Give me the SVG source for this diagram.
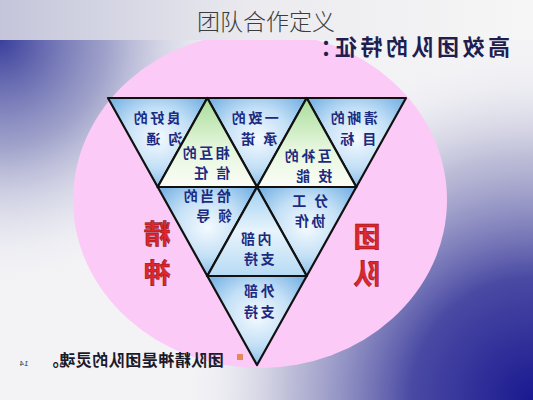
<svg xmlns="http://www.w3.org/2000/svg" width="533" height="400" viewBox="0 0 533 400">
<defs>
<radialGradient id="tl" gradientUnits="userSpaceOnUse" cx="0" cy="40" r="240">
<stop offset="0" stop-color="#3a3f9c"/>
<stop offset="0.45" stop-color="#8c8fc0" stop-opacity="0.8"/>
<stop offset="1" stop-color="#e8e8f0" stop-opacity="0"/>
</radialGradient>
<radialGradient id="br" gradientUnits="userSpaceOnUse" cx="533" cy="400" r="350">
<stop offset="0" stop-color="#1a1890"/>
<stop offset="0.35" stop-color="#4a4aa4"/>
<stop offset="0.7" stop-color="#a8a8cc" stop-opacity="0.7"/>
<stop offset="1" stop-color="#f0f0f4" stop-opacity="0"/>
</radialGradient>
<linearGradient id="band" x1="0" y1="0" x2="1" y2="0">
<stop offset="0" stop-color="#c4c5da"/>
<stop offset="0.5" stop-color="#ececf0"/>
<stop offset="1" stop-color="#f6f6f6"/>
</linearGradient>
<radialGradient id="blue" cx="0.5" cy="0.45" r="0.6">
<stop offset="0" stop-color="#f4faff"/>
<stop offset="0.55" stop-color="#c4e0f6"/>
<stop offset="1" stop-color="#7db6e6"/>
</radialGradient>
<linearGradient id="green" x1="0" y1="0" x2="0" y2="1">
<stop offset="0" stop-color="#a8dc98"/>
<stop offset="0.55" stop-color="#e4f6dc"/>
<stop offset="1" stop-color="#fbfdf6"/>
</linearGradient>
<linearGradient id="inner" x1="0" y1="0" x2="0" y2="1">
<stop offset="0" stop-color="#9fd0f2"/>
<stop offset="0.5" stop-color="#e8f4fc"/>
<stop offset="1" stop-color="#b6daf4"/>
</linearGradient>
<style>
.tri{stroke:#111;stroke-width:2.2;stroke-linejoin:round}
.b{fill:url(#blue)}
.g{fill:url(#green)}
.i{fill:url(#inner)}
.t{font-family:"Noto Sans CJK SC","Noto Sans CJK JP",sans-serif;font-size:14px;font-weight:700;fill:#1c2a80;text-anchor:middle;letter-spacing:2.5px}
.r{font-family:"Noto Sans CJK SC","Noto Sans CJK JP",sans-serif;font-size:27px;font-weight:700;fill:#e0262c;stroke:#7a1010;stroke-width:0.5;text-anchor:middle}
</style>
</defs>
<rect width="533" height="400" fill="#f3f3f6"/>
<rect width="533" height="400" fill="url(#tl)"/>
<rect width="533" height="400" fill="url(#br)"/>
<ellipse cx="260" cy="200" rx="187" ry="168" fill="#fccaf6"/>
<rect width="533" height="40" fill="url(#band)"/>
<text x="266" y="30" font-family="'Noto Sans CJK SC',sans-serif" font-size="23" font-weight="300" fill="#3c3c3c" text-anchor="middle">团队合作定义</text>
<text transform="scale(-1,1)" x="-408" y="55" font-family="'Noto Sans CJK SC',sans-serif" font-size="22" font-weight="700" fill="#1e1e50" text-anchor="middle" letter-spacing="3.5">高效团队的特征：</text>

<g id="n1"><polygon class="tri b" points="108,98 207.3,98 157.7,187"/>
<text class="t" transform="scale(-1,1)" x="-156" y="123">良好的</text>
<text class="t" transform="scale(-1,1)" x="-163" y="144">沟 通</text></g>
<g id="n2"><polygon class="tri b" points="207.3,98 306.7,98 257,187"/>
<text class="t" transform="scale(-1,1)" x="-254" y="123">一致的</text>
<text class="t" transform="scale(-1,1)" x="-258" y="144">承 诺</text></g>
<g id="n3"><polygon class="tri b" points="306.7,98 406,98 356.3,187"/>
<text class="t" transform="scale(-1,1)" x="-353" y="123">清晰的</text>
<text class="t" transform="scale(-1,1)" x="-357" y="144">目 标</text></g>
<g id="n4"><polygon class="tri g" points="207.3,98 157.7,187 257,187"/>
<text class="t" transform="scale(-1,1)" x="-205" y="158">相互的</text>
<text class="t" transform="scale(-1,1)" x="-211" y="178">信 任</text></g>
<g id="n5"><polygon class="tri g" points="306.7,98 257,187 356.3,187"/>
<text class="t" transform="scale(-1,1)" x="-307" y="161">互补的</text>
<text class="t" transform="scale(-1,1)" x="-313" y="181">技 能</text></g>
<g id="n6"><polygon class="tri b" points="157.7,187 257,187 207.3,276"/>
<text class="t" transform="scale(-1,1)" x="-206" y="201">恰当的</text>
<text class="t" transform="scale(-1,1)" x="-213" y="221">领 导</text></g>
<g id="n7"><polygon class="tri b" points="257,187 356.3,187 306.7,276"/>
<text class="t" transform="scale(-1,1)" x="-309" y="206">分 工</text>
<text class="t" transform="scale(-1,1)" x="-309" y="226">协作</text></g>
<g id="n8"><polygon class="tri i" points="257,187 207.3,276 306.7,276"/>
<text class="t" transform="scale(-1,1)" x="-255" y="244">内部</text>
<text class="t" transform="scale(-1,1)" x="-258" y="264">支持</text></g>
<g id="n9"><polygon class="tri b" points="207.3,276 306.7,276 257,365"/>
<text class="t" transform="scale(-1,1)" x="-258" y="296">外部</text>
<text class="t" transform="scale(-1,1)" x="-258" y="317">支持</text></g>

<g id="spirit">
<text class="r" transform="scale(-1,1)" x="-157" y="244">精</text>
<text class="r" transform="scale(-1,1)" x="-157" y="283">神</text>
</g>
<g id="team">
<text class="r" transform="scale(-1,1)" x="-367" y="247">团</text>
<text class="r" transform="scale(-1,1)" x="-367" y="284">队</text>
</g>
<rect x="237" y="354" width="6" height="6" fill="#e8885a"/>
<text transform="scale(-1,1)" x="-133" y="366" font-family="'Noto Sans CJK SC',sans-serif" font-size="16" font-weight="700" fill="#1a1a2a" text-anchor="middle" letter-spacing="0.5">团队精神是团队的灵魂。</text>
<text transform="scale(-1,1)" x="-24" y="366" font-family="'Liberation Sans',sans-serif" font-size="8" fill="#333" text-anchor="middle">14</text>
</svg>
